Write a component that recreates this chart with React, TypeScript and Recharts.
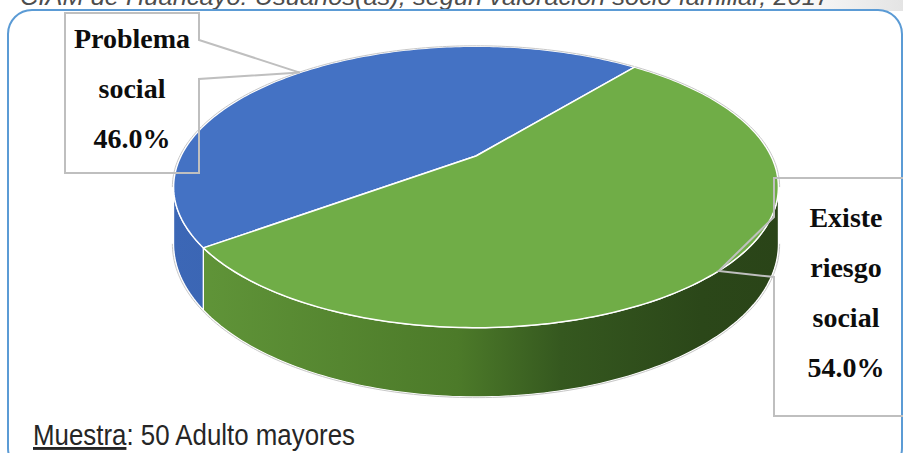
import { PieChart, Pie } from 'recharts'

// valoración socio familiar, 50 adultos mayores
const categories = ['Problema social', 'Existe riesgo social']
const shares = [46, 54]
const topColors = ['#4472c4', '#70ad47']

const data = categories.map((name, i) => ({ name, value: shares[i] }))

const W = 903
const H = 453

// disc geometry: tilt, perspective strength and wall height
const CX = 476
const CY = 156
const R = 295
const TILT = 0.454
const PERSP = 0.22
const DEPTH = 54
const RAD = Math.PI / 180
const EDGE = Math.asin(PERSP) / RAD

// callout boxes around the disc
const callouts = [
  { left: 65, top: 13, right: 199, bottom: 173, notch: [40, 79], side: 'right', textX: 132, firstLine: 48 },
  { left: 774, top: 178, right: 912, bottom: 416, notch: [217, 277], side: 'left', textX: 846, firstLine: 227 },
]
const LINE_STEP = 50

function project(cx: number, cy: number, r: number, deg: number, drop = 0): [number, number] {
  const s = Math.sin(deg * RAD)
  const c = Math.cos(deg * RAD)
  const d = 1 + PERSP * s
  return [cx + (r * c) / d, cy - (r * TILT * s) / d + drop / d]
}

function arc(cx: number, cy: number, r: number, a0: number, a1: number, drop = 0) {
  const n = Math.max(2, Math.ceil(Math.abs(a1 - a0)))
  const pts: [number, number][] = []
  for (let i = 0; i <= n; i++) pts.push(project(cx, cy, r, a0 + ((a1 - a0) * i) / n, drop))
  return pts
}

function overlap(s: number, e: number, lo: number, hi: number) {
  const out: [number, number][] = []
  for (let k = -2; k <= 2; k++) {
    const a = Math.max(s, lo + 360 * k)
    const b = Math.min(e, hi + 360 * k)
    if (b > a) out.push([a, b])
  }
  return out
}

const toPath = (pts: [number, number][], close = true) =>
  pts.map((p, i) => `${i ? 'L' : 'M'}${p[0].toFixed(2)},${p[1].toFixed(2)}`).join('') + (close ? 'Z' : '')

function Slice3D(props: any) {
  const { cx, cy, outerRadius, startAngle, endAngle, index } = props
  const s = Math.min(startAngle, endAngle)
  const e = Math.max(startAngle, endAngle)
  const walls = overlap(s, e, 180 + EDGE, 360 - EDGE)
  const backRim = overlap(s, e, -EDGE, 180 + EDGE)
  const top = [[cx, cy] as [number, number], ...arc(cx, cy, outerRadius, s, e)]
  return (
    <g>
      {walls.map(([a, b], i) => (
        <path
          key={`w${i}`}
          d={toPath([...arc(cx, cy, outerRadius, a, b), ...arc(cx, cy, outerRadius, b, a, DEPTH)])}
          fill={`url(#wall-${index})`}
          stroke="#ffffff"
          strokeWidth={1.2}
          strokeLinejoin="round"
        />
      ))}
      {walls.map(([a, b], i) => (
        <path
          key={`o${i}`}
          d={toPath(arc(cx, cy, outerRadius + 1.2, a, b, DEPTH), false)}
          fill="none"
          stroke="#c8c8c8"
          strokeWidth={1}
        />
      ))}
      <path d={toPath(top)} fill={topColors[index]} stroke="#ffffff" strokeWidth={1.5} strokeLinejoin="round" />
      {backRim.map(([a, b], i) => (
        <path
          key={`b${i}`}
          d={toPath(arc(cx, cy, outerRadius + 1.2, a, b), false)}
          fill="none"
          stroke="#c8c8c8"
          strokeWidth={1}
        />
      ))}
    </g>
  )
}

function Callout(props: any) {
  const { cx, cy, outerRadius, midAngle, index, name, percent } = props
  const c = callouts[index]
  if (!c) return null
  const [tx, ty] = project(cx, cy, outerRadius, midAngle)
  const d =
    c.side === 'right'
      ? `M${c.left},${c.top}H${c.right}V${c.notch[0]}L${tx},${ty}L${c.right},${c.notch[1]}V${c.bottom}H${c.left}Z`
      : `M${c.right},${c.top}H${c.left}V${c.notch[0]}L${tx},${ty}L${c.left},${c.notch[1]}V${c.bottom}H${c.right}`
  const lines = [...String(name).split(' '), `${(percent * 100).toFixed(1)}%`]
  return (
    <g>
      <path d={d} fill="none" stroke="#bfbfbf" strokeWidth={2} />
      {lines.map((t, i) => (
        <text
          key={i}
          x={c.textX}
          y={c.firstLine + i * LINE_STEP}
          textAnchor="middle"
          fontFamily="'Liberation Serif', 'DejaVu Serif', serif"
          fontWeight="bold"
          fontSize={28}
          fill="#0d0d0d"
        >
          {t}
        </text>
      ))}
    </g>
  )
}

export default function App() {
  return (
    <div style={{ position: 'absolute', left: 0, top: 0, width: W, height: H, background: '#ffffff', overflow: 'hidden' }}>
      <svg width={W} height={H} style={{ position: 'absolute', left: 0, top: 0 }}>
        <defs>
          <linearGradient id="haze" x1="0" y1="0" x2="1" y2="0">
            <stop offset="0" stopColor="#ffffff" />
            <stop offset="1" stopColor="#e4e4e4" />
          </linearGradient>
        </defs>
        <rect x={770} y={0} width={133} height={11} fill="url(#haze)" />
        <text
          x={20}
          y={4.5}
          fontFamily="'Liberation Sans', Arial, sans-serif"
          fontStyle="italic"
          fontSize={23}
          fill="#4d4d4d"
          textLength={810}
          lengthAdjust="spacingAndGlyphs"
        >
          CIAM de Huancayo: Usuarios(as), según valoración socio familiar, 2017
        </text>
        <rect x={8} y={10} width={894} height={462} rx={24} fill="#ffffff" stroke="#5b9bd5" strokeWidth={2} />
        <text
          x={33}
          y={445}
          fontFamily="'Liberation Sans', Arial, sans-serif"
          fontSize={29}
          fill="#262626"
          textLength={322}
          lengthAdjust="spacingAndGlyphs"
        >
          <tspan style={{ textDecoration: 'underline' }}>Muestra</tspan>: 50 Adulto mayores
        </text>
      </svg>
      <div style={{ position: 'absolute', left: 0, top: 0 }}>
        <PieChart width={W} height={H} margin={{ top: 0, right: 0, bottom: 0, left: 0 }}>
          <defs>
            <linearGradient id="wall-0" gradientUnits="userSpaceOnUse" x1={CX - R * 1.03} y1={0} x2={CX + R * 1.03} y2={0}>
              <stop offset="0" stopColor="#3c67b6" />
              <stop offset="1" stopColor="#2f5597" />
            </linearGradient>
            <linearGradient id="wall-1" gradientUnits="userSpaceOnUse" x1={CX - R * 1.03} y1={0} x2={CX + R * 1.03} y2={0}>
              <stop offset="0" stopColor="#62973a" />
              <stop offset="0.47" stopColor="#4c7a29" />
              <stop offset="0.64" stopColor="#35581f" />
              <stop offset="0.87" stopColor="#2b4719" />
              <stop offset="1" stopColor="#2a4418" />
            </linearGradient>
          </defs>
          <Pie
            data={data}
            dataKey="value"
            nameKey="name"
            cx={CX}
            cy={CY}
            outerRadius={R}
            startAngle={51}
            endAngle={411}
            stroke="none"
            isAnimationActive={false}
            shape={Slice3D}
            inactiveShape={Slice3D}
            activeShape={Slice3D}
            label={Callout}
            labelLine={false}
          />
        </PieChart>
      </div>
    </div>
  )
}
